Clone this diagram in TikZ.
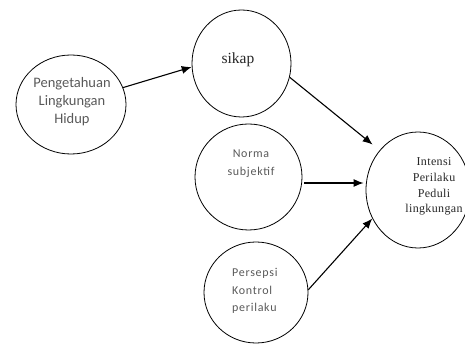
\documentclass[tikz,border=0pt]{standalone}
\usepackage{fontspec}
\usetikzlibrary{shapes.geometric,arrows.meta}
\newfontfamily\calfont{Carlito}
\newfontfamily\calwide[LetterSpace=6]{Carlito}
\newfontfamily\camfont{Liberation Serif}
\newfontfamily\camwide[LetterSpace=3]{Liberation Serif}
\begin{document}
\begin{tikzpicture}[x=1pt,y=-1pt,
  bubble/.style={draw=black,line width=0.8pt,ellipse,inner sep=0pt},
  arr/.style={draw=black,line width=1.1pt,-{Latex[length=10pt,width=8pt]}},
  caltext/.style={font=\calfont\fontsize{14.5}{18}\selectfont,text=black!65,inner sep=0pt},
  camtext/.style={font=\camwide\fontsize{12}{15.7}\selectfont,text=black!85,inner sep=0pt}]
\useasboundingbox (0,0) rectangle (465,344);
\node[bubble,minimum width=110pt,minimum height=99pt] (A) at (71,104.5) {};
\node[bubble,minimum width=99pt,minimum height=107pt] (B) at (241.5,63.5) {};
\node[bubble,minimum width=107pt,minimum height=106pt] (D) at (248.5,177) {};
\node[bubble,minimum width=104pt,minimum height=101pt] (F) at (256,292.5) {};
\node[bubble,minimum width=104pt,minimum height=116pt] (E) at (418,190) {};
\node[caltext,align=center] (tA) at (72,102) {Pengetahuan\\Lingkungan\\Hidup};
\node[camtext,font=\camfont\fontsize{15.5}{18}\selectfont] (tB) at (238,60) {sikap};
\node[caltext,align=center,font=\calwide\fontsize{12}{18}\selectfont] (tD) at (251,164) {Norma\\subjektif};
\node[caltext,align=left,anchor=west,font=\calwide\fontsize{12}{17.5}\selectfont] (tF) at (232,291) {Persepsi\\Kontrol\\perilaku};
\node[camtext,align=center] (tE) at (434,186.5) {Intensi\\Perilaku\\Peduli\\lingkungan};
\draw[arr] (A.18) -- (B.184);
\draw[arr,shorten >=9pt] (B.-16) -- (E.134);
\draw[arr] ([xshift=2pt,yshift=-6pt]D.east) -- ([xshift=-2pt,yshift=7pt]E.west);
\draw[arr] (F.3) -- (E.212);
\end{tikzpicture}
\end{document}
